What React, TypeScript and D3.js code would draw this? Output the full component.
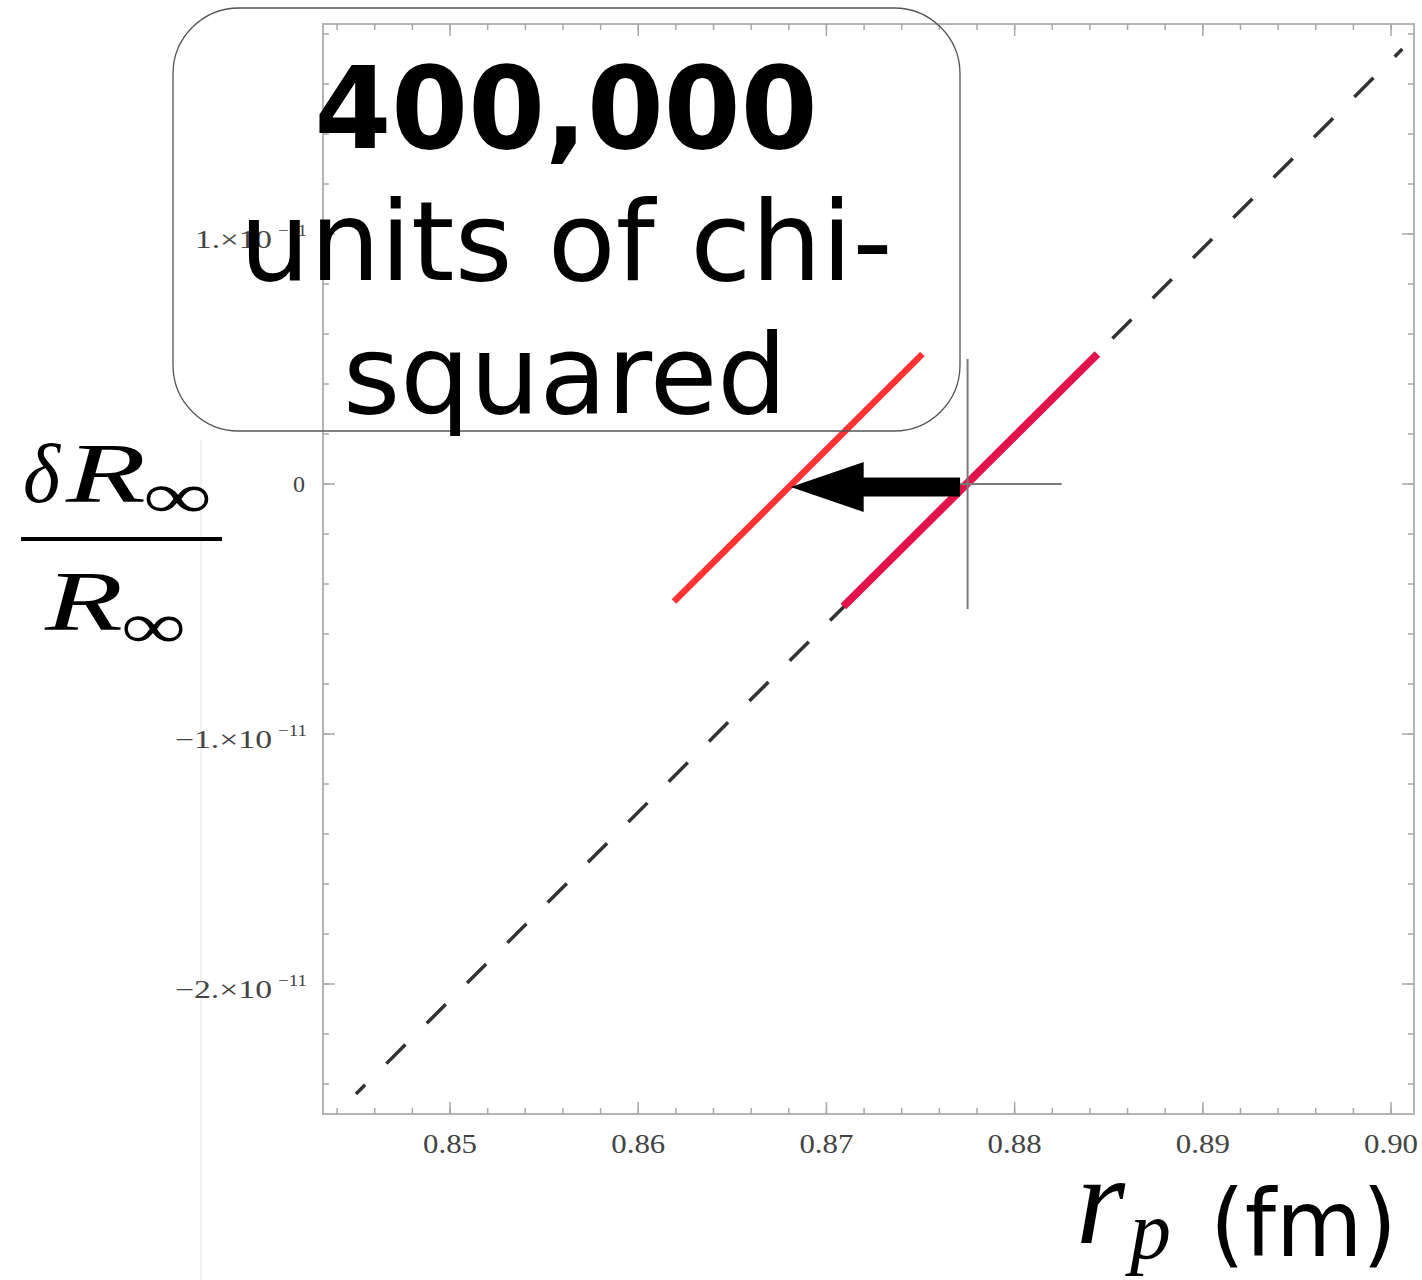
import React from "react";
import * as d3 from "d3";

// Axis domains (proton radius in fm, relative Rydberg shift)
const xDomain: [number, number] = [0.84325, 0.90122];
const yDomain: [number, number] = [-2.52e-11, 1.84e-11];

// Major tick values and labels
const xMajorTicks = [0.85, 0.86, 0.87, 0.88, 0.89, 0.9];
const xTickLabels = ["0.85", "0.86", "0.87", "0.88", "0.89", "0.90"];
const yMajorTicks = [-2e-11, -1e-11, 0, 1e-11];
const yTickMantissa = ["\u22122.", "\u22121.", "0", "1."];
const yTickExponent = ["\u221211", "\u221211", "", "\u221211"];

// Correlation line r_p vs dR/R (dashed), and the two highlighted segments
const correlationLine: [number, number][] = [
  [0.845, -2.44e-11],
  [0.9006, 1.74e-11],
];
const muonicSegment: [number, number][] = [
  [0.8709, -0.49e-11],
  [0.8844, 0.52e-11],
];
const shiftedSegment: [number, number][] = [
  [0.8619, -0.47e-11],
  [0.8751, 0.52e-11],
];

// Central value with its error bars
const centralX = 0.8775;
const centralY = 0;
const errX = 0.005;
const errY = 0.5e-11;

// Arrow showing the shift along r_p
const arrowFromX = 0.8771;
const arrowToX = 0.8681;

const titleLines = ["400,000", "units of chi-", "squared"];

export default function App() {
  const x = d3.scaleLinear().domain(xDomain).range([323, 1414]);
  const y = d3.scaleLinear().domain(yDomain).range([1114, 24]);

  const line = d3
    .line<[number, number]>()
    .x((d) => x(d[0]))
    .y((d) => y(d[1]));

  const xMinor = d3.range(0.844, 0.9009, 0.002);
  const yMinor = d3.range(-2.4e-11, 1.81e-11, 0.2e-11);

  const [x0, x1] = x.range();
  const [yb, yt] = y.range();

  const serif = "'Liberation Serif', 'DejaVu Serif', serif";
  const sans = "'DejaVu Sans', Verdana, sans-serif";

  // arrow geometry
  const ay = y(0) + 3;
  const tip = x(arrowToX);
  const tail = x(arrowFromX);
  const headLen = 73;
  const headHalf = 25;
  const shaftHalf = 9.5;
  const arrowPath = [
    [tip, ay],
    [tip + headLen, ay - headHalf],
    [tip + headLen, ay - shaftHalf],
    [tail, ay - shaftHalf],
    [tail, ay + shaftHalf],
    [tip + headLen, ay + shaftHalf],
    [tip + headLen, ay + headHalf],
  ]
    .map((p, i) => (i === 0 ? "M" : "L") + p[0] + "," + p[1])
    .join("") + "Z";

  return (
    <svg
      width={1422}
      height={1280}
      style={{ position: "absolute", left: 0, top: 0, background: "#fff" }}
    >
      <rect width={1422} height={1280} fill="#fff" />
      {/* faint guide */}
      <line x1={201} x2={201} y1={440} y2={1280} stroke="#ececec" strokeWidth={1.5} />

      {/* frame */}
      <rect
        x={x0}
        y={yt}
        width={x1 - x0}
        height={yb - yt}
        fill="none"
        stroke="#b4b4b4"
        strokeWidth={2}
      />

      {/* x ticks (bottom and top) */}
      {xMinor.map((v, i) => (
        <g key={"xm" + i} stroke="#a8a8a8" strokeWidth={1.5}>
          <line x1={x(v)} x2={x(v)} y1={yb} y2={yb - 6} />
          <line x1={x(v)} x2={x(v)} y1={yt} y2={yt + 6} />
        </g>
      ))}
      {xMajorTicks.map((v, i) => (
        <g key={"xM" + i}>
          <line x1={x(v)} x2={x(v)} y1={yb} y2={yb - 12} stroke="#a8a8a8" strokeWidth={1.5} />
          <line x1={x(v)} x2={x(v)} y1={yt} y2={yt + 12} stroke="#a8a8a8" strokeWidth={1.5} />
          <text
            x={x(v)}
            y={1153}
            textAnchor="middle"
            fontFamily={serif}
            fontSize={27}
            fill="#444"
            textLength={54}
            lengthAdjust="spacingAndGlyphs"
          >
            {xTickLabels[i]}
          </text>
        </g>
      ))}

      {/* y ticks (left and right) */}
      {yMinor.map((v, i) => (
        <g key={"ym" + i} stroke="#a8a8a8" strokeWidth={1.5}>
          <line x1={x0} x2={x0 + 6} y1={y(v)} y2={y(v)} />
          <line x1={x1} x2={x1 - 6} y1={y(v)} y2={y(v)} />
        </g>
      ))}
      {yMajorTicks.map((v, i) => {
        const ty = y(v);
        const hasExp = yTickExponent[i] !== "";
        return (
          <g key={"yM" + i}>
            <line x1={x0} x2={x0 + 12} y1={ty} y2={ty} stroke="#a8a8a8" strokeWidth={1.5} />
            <line x1={x1} x2={x1 - 12} y1={ty} y2={ty} stroke="#a8a8a8" strokeWidth={1.5} />
            {hasExp ? (
              <g fontFamily={serif} fill="#444">
                <text
                  x={272}
                  y={ty + 14}
                  textAnchor="end"
                  fontSize={25}
                  textLength={v < 0 ? 97 : 77}
                  lengthAdjust="spacingAndGlyphs"
                >
                  {yTickMantissa[i] + "\u00d710"}
                </text>
                <text
                  x={278}
                  y={ty + 2}
                  fontSize={16}
                  textLength={29}
                  lengthAdjust="spacingAndGlyphs"
                >
                  {yTickExponent[i]}
                </text>
              </g>
            ) : (
              <text
                x={305}
                y={ty + 8}
                textAnchor="end"
                fontFamily={serif}
                fontSize={24}
                fill="#444"
              >
                {yTickMantissa[i]}
              </text>
            )}
          </g>
        );
      })}

      {/* dashed correlation line */}
      <path
        d={line(correlationLine) || ""}
        fill="none"
        stroke="#333"
        strokeWidth={3.5}
        strokeDasharray="27 30"
        strokeDashoffset={14}
      />

      {/* muonic hydrogen segment */}
      <path d={line(muonicSegment) || ""} fill="none" stroke="#e0134b" strokeWidth={8} />

      {/* shifted segment */}
      <path d={line(shiftedSegment) || ""} fill="none" stroke="#ff3333" strokeWidth={6.5} />

      {/* central value with error bars */}
      <g stroke="#7a7a7a" strokeWidth={2}>
        <line x1={x(centralX - errX)} x2={x(centralX + errX)} y1={y(centralY)} y2={y(centralY)} />
        <line x1={x(centralX)} x2={x(centralX)} y1={y(centralY - errY)} y2={y(centralY + errY)} />
      </g>

      {/* arrow */}
      <path d={arrowPath} fill="#000" />

      {/* annotation box */}
      <rect
        x={173}
        y={8}
        width={787}
        height={423}
        rx={66}
        ry={66}
        fill="none"
        stroke="#555"
        strokeWidth={1.3}
      />
      <text
        x={566}
        y={148}
        textAnchor="middle"
        fontFamily={sans}
        fontWeight="bold"
        fontSize={114}
        textLength={503}
        lengthAdjust="spacingAndGlyphs"
        fill="#000"
      >
        {titleLines[0]}
      </text>
      <text
        x={566}
        y={280}
        textAnchor="middle"
        fontFamily={sans}
        fontSize={111}
        textLength={653}
        lengthAdjust="spacingAndGlyphs"
        fill="#000"
      >
        {titleLines[1]}
      </text>
      <text
        x={565}
        y={413}
        textAnchor="middle"
        fontFamily={sans}
        fontSize={110}
        textLength={444}
        lengthAdjust="spacingAndGlyphs"
        fill="#000"
      >
        {titleLines[2]}
      </text>

      {/* y axis label: δR∞ / R∞ */}
      <g fontFamily={serif} fontStyle="italic" fill="#000">
        <text x={23} y={502} fontSize={84} textLength={37} lengthAdjust="spacingAndGlyphs">
          δ
        </text>
        <text x={66} y={502} fontSize={84} textLength={80} lengthAdjust="spacingAndGlyphs">
          R
        </text>
        <text x={45} y={630} fontSize={84} textLength={78} lengthAdjust="spacingAndGlyphs">
          R
        </text>
      </g>
      <g fontFamily={serif} fill="#000">
        <text x={143} y={518} fontSize={66} textLength={69} lengthAdjust="spacingAndGlyphs">
          ∞
        </text>
        <text x={121} y={648} fontSize={66} textLength={65} lengthAdjust="spacingAndGlyphs">
          ∞
        </text>
      </g>
      <line x1={21} x2={222} y1={539} y2={539} stroke="#000" strokeWidth={4} />

      {/* x axis label: r_p (fm) */}
      <text
        x={1076}
        y={1243}
        fontFamily={serif}
        fontStyle="italic"
        fontSize={126}
        fill="#000"
      >
        r
      </text>
      <text
        x={1130}
        y={1258}
        fontFamily={serif}
        fontStyle="italic"
        fontSize={82}
        fill="#000"
      >
        p
      </text>
      <text
        x={1210}
        y={1256}
        fontFamily={sans}
        fontSize={92}
        textLength={187}
        lengthAdjust="spacingAndGlyphs"
        fill="#000"
      >
        (fm)
      </text>
    </svg>
  );
}
